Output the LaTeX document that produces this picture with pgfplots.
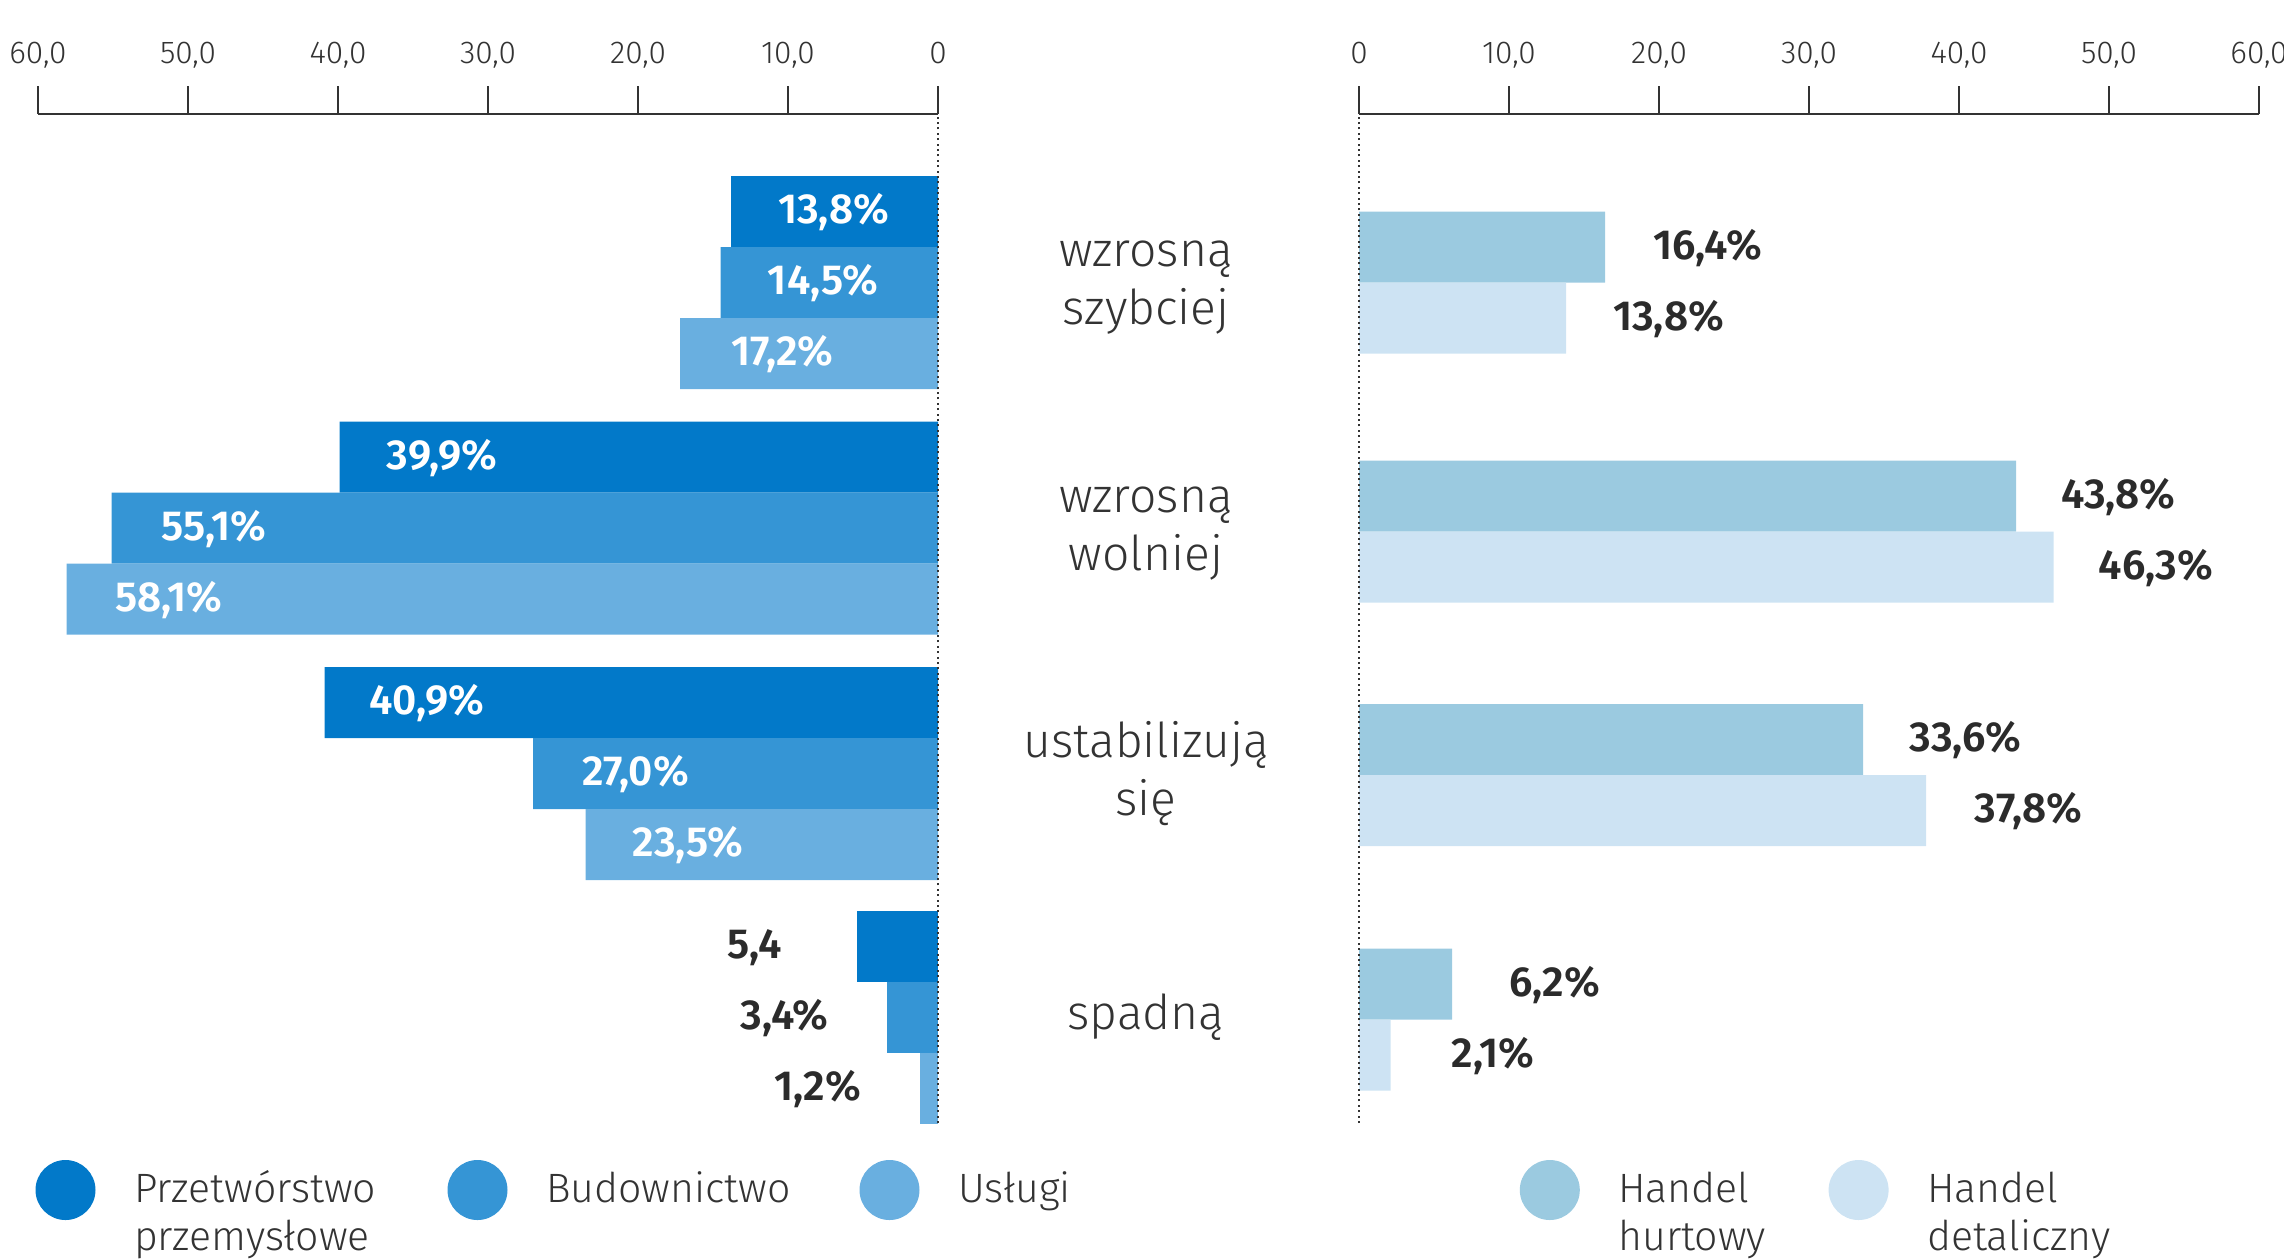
\documentclass[border=0pt]{standalone}
\usepackage{pgfplots}
\pgfplotsset{compat=1.18}
\usepackage{fontspec}
\setmainfont{Fira Sans}
\newfontfamily\firalight{Fira Sans Light}
\newfontfamily\firasemi{Fira Sans SemiBold}
\definecolor{cA}{HTML}{0279C9}
\definecolor{cB}{HTML}{3595D5}
\definecolor{cC}{HTML}{69AFE0}
\definecolor{cD}{HTML}{9BCAE0}
\definecolor{cE}{HTML}{CDE3F3}
\definecolor{txt}{HTML}{333333}
\definecolor{val}{HTML}{2B2B2B}
\newcommand\legtxt[2]{\hspace*{19.25pt}\smash{\makebox[#1][l]{\begin{tabular}[t]{@{}l@{}}#2\end{tabular}}}}
\newcommand\catlab[1]{\begin{tabular}[t]{@{}c@{}}#1\end{tabular}}
\tikzset{vallab/.style={font=\firasemi\fontsize{21}{24}\selectfont, anchor=base, yshift=-6pt, inner sep=0pt}}
\pgfplotsset{
  common/.style={
    scale only axis, width=450pt, height=504.5pt,
    ymin=-1123, ymax=-114,
    axis x line*=top,
    x axis line style={draw=txt, line width=1pt, -},
    y axis line style={draw=black!80, line width=0.8pt, dash pattern=on 1pt off 1.7pt, -},
    tick align=outside, major tick length=14pt,
    xtick style={draw=txt, line width=0.8pt},
    xticklabel style={font=\firalight\fontsize{15.8}{18}\selectfont, text=txt, anchor=base, yshift=11.5pt},
    axis on top, clip=false,
    legend cell align=left,
    legend image code/.code={\fill[##1, draw=none] (15pt,7pt) circle (15pt);},
  },
  barsty/.style={xbar, bar width=71, bar shift=0pt, draw=none, fill=#1,
    point meta=explicit symbolic, nodes near coords},
}
\begin{document}
\begin{tikzpicture}
\useasboundingbox (0,0) rectangle (1142pt,-629.5pt);
% ---------- left panel ----------
\begin{axis}[common,
  at={(19pt,-57pt)}, anchor=north west,
  xmin=-60, xmax=0,
  axis y line*=right,
  xtick={-60,-50,...,0},
  xticklabels={{60,0},{50,0},{40,0},{30,0},{20,0},{10,0},{0}},
  ytick=\empty,
  legend columns=3,
  legend style={draw=none, fill=none, inner sep=0pt, outer sep=0pt,
    at={(-0.00278,-0.0664)}, anchor=west,
    font=\firalight\fontsize{20.5}{24}\selectfont, text=txt,
    nodes={inner sep=0pt}, column sep=0pt, row sep=0pt},
]
\addplot[barsty=cA, nodes near coords style={vallab, text=white, xshift=51.25pt}]
  table[row sep=\\, x=x, y=y, meta=lab]{x y lab\\ -13.8 -211.5 13,8\%\\ -39.9 -457 39,9\%\\ -40.9 -702.5 40,9\%\\};
\addlegendentry{\legtxt{156.75pt}{Przetwórstwo\\przemysłowe}}
\addplot[barsty=cB, nodes near coords style={vallab, text=white, xshift=51.25pt}]
  table[row sep=\\, x=x, y=y, meta=lab]{x y lab\\ -14.5 -282.5 14,5\%\\ -55.1 -528 55,1\%\\ -27.0 -773.5 27,0\%\\};
\addlegendentry{\legtxt{156.75pt}{Budownictwo}}
\addplot[barsty=cC, nodes near coords style={vallab, text=white, xshift=51.25pt}]
  table[row sep=\\, x=x, y=y, meta=lab]{x y lab\\ -17.2 -353.5 17,2\%\\ -58.1 -599 58,1\%\\ -23.5 -844.5 23,5\%\\};
\addlegendentry{\legtxt{156.75pt}{Usługi}}
\addplot[forget plot, barsty=cA, nodes near coords style={vallab, text=val, xshift=-51.25pt}]
  table[row sep=\\, x=x, y=y, meta=lab]{x y lab\\ -5.4 -946 5,4\\};
\addplot[forget plot, barsty=cB, nodes near coords style={vallab, text=val, xshift=-51.25pt}]
  table[row sep=\\, x=x, y=y, meta=lab]{x y lab\\ -3.4 -1017 3,4\%\\};
\addplot[forget plot, barsty=cC, nodes near coords style={vallab, text=val, xshift=-51.25pt}]
  table[row sep=\\, x=x, y=y, meta=lab]{x y lab\\ -1.2 -1088 1,2\%\\};
\end{axis}
% ---------- right panel ----------
\begin{axis}[common,
  at={(679.5pt,-57pt)}, anchor=north west,
  xmin=0, xmax=60,
  axis y line*=left,
  xtick={0,10,...,60},
  xticklabels={{0},{10,0},{20,0},{30,0},{40,0},{50,0},{60,0}},
  ytick={-282.5,-528,-773.5,-1019},
  yticklabels={{\catlab{wzrosną\\szybciej}},{\catlab{wzrosną\\wolniej}},{\catlab{ustabilizują\\się}},{\raisebox{-13.4pt}{spadną}}},
  ytick style={draw=none},
  yticklabel style={font=\firalight\fontsize{24}{29}\selectfont, text=txt, anchor=base, xshift=-92.5pt, yshift=8pt},
  legend columns=2,
  legend style={draw=none, fill=none, inner sep=0pt, outer sep=0pt,
    at={(0.17867,-0.0664)}, anchor=west,
    font=\firalight\fontsize{20.5}{24}\selectfont, text=txt,
    nodes={inner sep=0pt}, column sep=0pt, row sep=0pt},
]
\addplot[barsty=cD, nodes near coords style={vallab, text=val, xshift=51.25pt}]
  table[row sep=\\, x=x, y=y, meta=lab]{x y lab\\ 16.4 -247 16,4\%\\ 43.8 -496 43,8\%\\ 33.6 -739.5 33,6\%\\ 6.2 -984 6,2\%\\};
\addlegendentry{\legtxt{105.15pt}{Handel\\hurtowy}}
\addplot[barsty=cE, nodes near coords style={vallab, text=val, xshift=51.25pt}]
  table[row sep=\\, x=x, y=y, meta=lab]{x y lab\\ 13.8 -318 13,8\%\\ 46.3 -567 46,3\%\\ 37.8 -810.5 37,8\%\\ 2.1 -1055 2,1\%\\};
\addlegendentry{\legtxt{105.15pt}{Handel\\detaliczny}}
\end{axis}
\end{tikzpicture}
\end{document}
